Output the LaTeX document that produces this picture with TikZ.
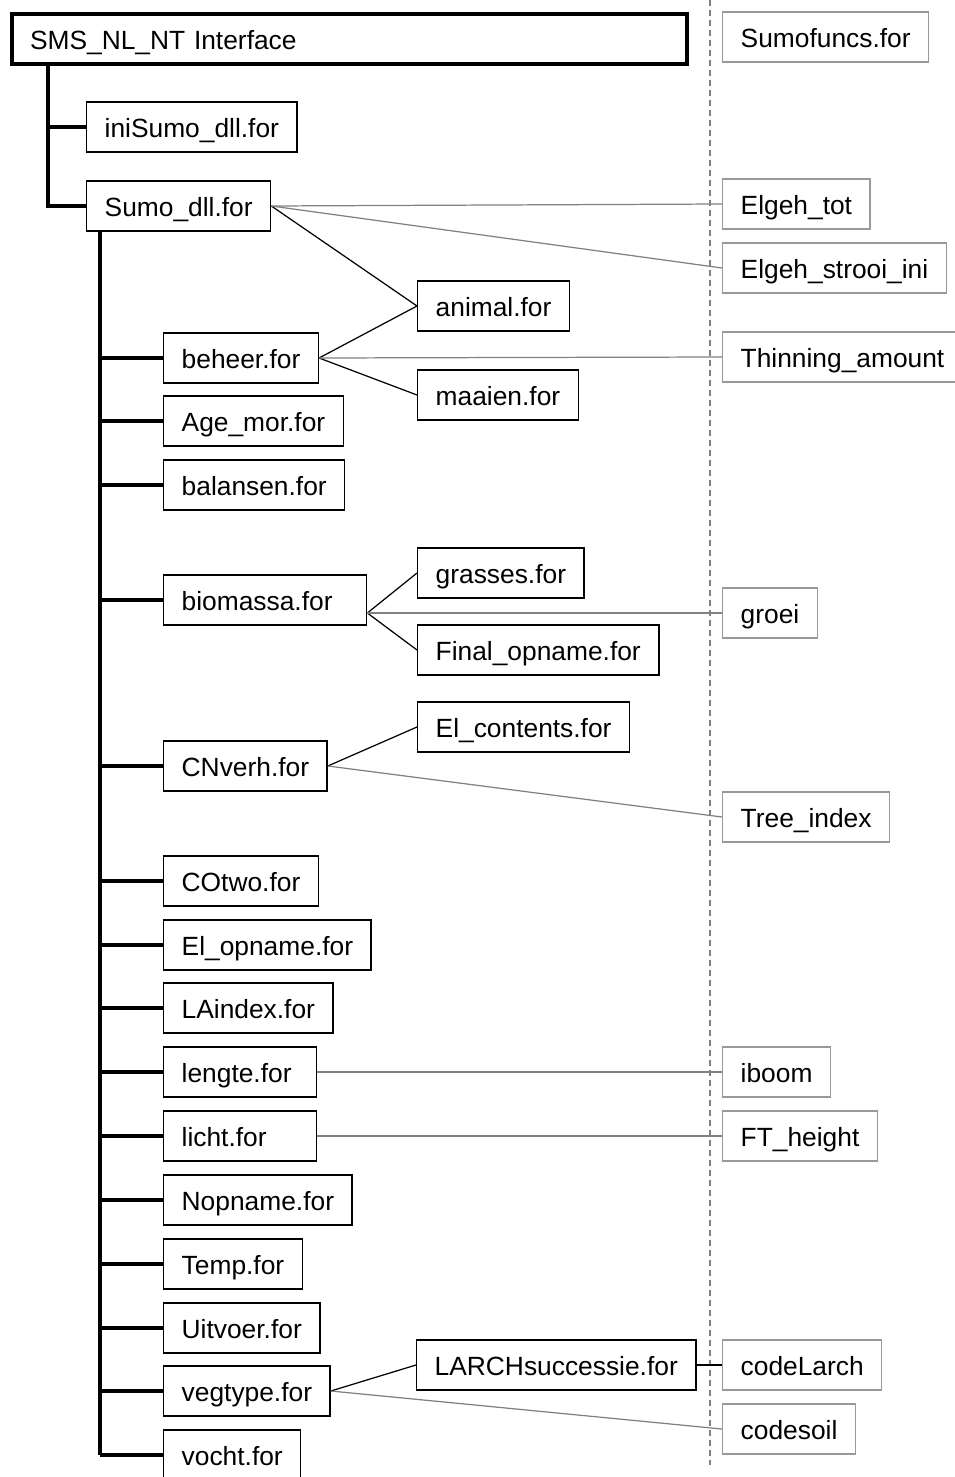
\documentclass[tikz,border=0pt]{standalone}
\usepackage{fontspec}
\setmainfont{Liberation Sans}
\begin{document}
\begin{tikzpicture}[x=0.02cm,y=-0.02cm,
  box/.style={draw,line width=0.8pt,minimum height=1cm,inner xsep=0.36cm,text height=14pt,text depth=1.6pt,anchor=west,font=\fontsize{15}{18}\selectfont},
  gbox/.style={box,draw=gray!80},
  link/.style={line width=0.7pt},
  glink/.style={line width=0.7pt,gray}]
\useasboundingbox (0,0) rectangle (955,1477);
% main program
\node[box,line width=2.3pt,minimum width=13.5cm,text width=12.78cm,align=left] (sms) at (10,39) {SMS\_NL\_NT Interface};
\node[box] (inisumo) at (86,127) {iniSumo\_dll.for};
\node[box] (sumodll) at (86,206) {Sumo\_dll.for};
% routines called by Sumo_dll
\node[box] (beheer) at (163,358) {beheer.for};
\node[box] (agemor) at (163,421) {Age\_mor.for};
\node[box] (balansen) at (163,485) {balansen.for};
\node[box,text width=3.34cm,align=left] (biomassa) at (163,600) {biomassa.for};
\node[box] (cnverh) at (163,766) {CNverh.for};
\node[box] (cotwo) at (163,881) {COtwo.for};
\node[box] (elopname) at (163,945) {El\_opname.for};
\node[box] (laindex) at (163,1008) {LAindex.for};
\node[box,text width=2.34cm,align=left] (lengte) at (163,1072) {lengte.for};
\node[box,text width=2.34cm,align=left] (licht) at (163,1136) {licht.for};
\node[box] (nopname) at (163,1200) {Nopname.for};
\node[box] (temp) at (163,1264) {Temp.for};
\node[box] (uitvoer) at (163,1328) {Uitvoer.for};
\node[box] (vegtype) at (163,1391) {vegtype.for};
\node[box] (vocht) at (163,1455) {vocht.for};
% second level
\node[box] (animal) at (417,306) {animal.for};
\node[box] (maaien) at (417,395) {maaien.for};
\node[box] (grasses) at (417,573) {grasses.for};
\node[box] (finalop) at (417,650) {Final\_opname.for};
\node[box] (elcont) at (417,727) {El\_contents.for};
\node[box] (larch) at (416,1365) {LARCHsuccessie.for};
% Sumofuncs
\draw[gray,line width=0.6pt,dash pattern=on 0.12cm off 0.08cm] (710,0) -- (710,1465);
\node[gbox] (sumofuncs) at (722,37) {Sumofuncs.for};
\node[gbox] (elgehtot) at (722,204) {Elgeh\_tot};
\node[gbox] (elgehstr) at (722,268) {Elgeh\_strooi\_ini};
\node[gbox] (thinning) at (722,357) {Thinning\_amount};
\node[gbox] (groei) at (722,613) {groei};
\node[gbox] (treeidx) at (722,817) {Tree\_index};
\node[gbox] (iboom) at (722,1072) {iboom};
\node[gbox] (ftheight) at (722,1136) {FT\_height};
\node[gbox] (codelarch) at (722,1365) {codeLarch};
\node[gbox] (codesoil) at (722,1429) {codesoil};
% tree
\coordinate (root) at (48,66);
\draw[line width=2.3pt] (root) |- (sumodll.west);
\draw[line width=2.3pt] (root |- inisumo.west) -- (inisumo.west);
\coordinate (trunk) at (100,230);
\draw[line width=1.8pt] (trunk) -- (trunk |- vocht.west);
\foreach \n in {beheer,agemor,balansen,biomassa,cnverh,cotwo,elopname,laindex,lengte,licht,nopname,temp,uitvoer,vegtype,vocht}
  \draw[line width=1.8pt] (trunk |- \n.west) -- (\n.west);
% calls
\draw[link] (sumodll.east) -- (animal.west);
\draw[glink] (sumodll.east) -- (elgehtot.west);
\draw[glink] (sumodll.east) -- (elgehstr.west);
\draw[link] (beheer.east) -- (animal.west);
\draw[link] (beheer.east) -- (maaien.west);
\draw[glink] (beheer.east) -- (thinning.west);
\draw[link] (biomassa.east |- groei.west) -- (grasses.west);
\draw[link] (biomassa.east |- groei.west) -- (finalop.west);
\draw[glink] (biomassa.east |- groei.west) -- (groei.west);
\draw[link] (cnverh.east) -- (elcont.west);
\draw[glink] (cnverh.east) -- (treeidx.west);
\draw[glink] (lengte.east) -- (iboom.west);
\draw[glink] (licht.east) -- (ftheight.west);
\draw[link] (vegtype.east) -- (larch.west);
\draw[glink] (vegtype.east) -- (codesoil.west);
\draw[link] (larch.east) -- (codelarch.west);
\end{tikzpicture}
\end{document}
